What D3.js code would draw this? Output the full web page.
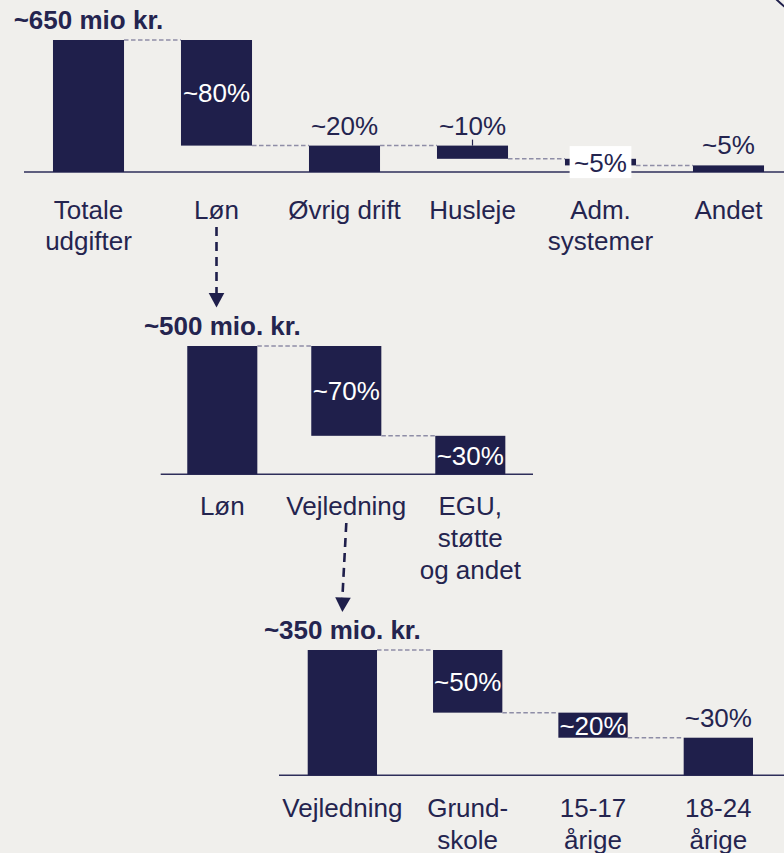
<!DOCTYPE html>
<html>
<head>
<meta charset="utf-8">
<script src="https://cdn.jsdelivr.net/npm/d3@7"></script>
<style>
  html, body { margin: 0; padding: 0; background: #f0efec; }
  svg { display: block; }
</style>
</head>
<body>
<svg id="chart" width="784" height="853"></svg>
<script>
// Total expenditure, broken down step by step (shares in % of the bar on the left)
const totalTitle = "~650 mio kr.";
const totalCategories = [["Totale", "udgifter"], ["Løn"], ["Øvrig drift"], ["Husleje"], ["Adm.", "systemer"], ["Andet"]];
const totalShares = [100, 80, 20, 10, 5, 5];
const totalStarts = [100, 100, 20, 20, 10, 5];
const totalLabels = ["", "~80%", "~20%", "~10%", "~5%", "~5%"];

// Salaries split
const salaryTitle = "~500 mio. kr.";
const salaryCategories = [["Løn"], ["Vejledning"], ["EGU,", "støtte", "og andet"]];
const salaryShares = [100, 70, 30];
const salaryStarts = [100, 100, 30];
const salaryLabels = ["", "~70%", "~30%"];

// Guidance split
const guidanceTitle = "~350 mio. kr.";
const guidanceCategories = [["Vejledning"], ["Grund-", "skole"], ["15-17", "årige"], ["18-24", "årige"]];
const guidanceShares = [100, 50, 20, 30];
const guidanceStarts = [100, 100, 50, 30];
const guidanceLabels = ["", "~50%", "~20%", "~30%"];

const NAVY = "#1f1f4b";
const TEXT = "#24244f";
const DASH = "#8e8da6";
const FONT = "'Liberation Sans', Arial, Helvetica, sans-serif";

const svg = d3.select("#chart");

const panels = [
  { title: totalTitle, categories: totalCategories, shares: totalShares, starts: totalStarts, labels: totalLabels,
    xRange: [24.5, 792.5], pad: 0.445, yRange: [172, 40], axis: [24, 784], catY: 219, lineGap: 30.5,
    place: ["", "inside", "above", "above", "boxed", "above"], leaders: [3] },
  { title: salaryTitle, categories: salaryCategories, shares: salaryShares, starts: salaryStarts, labels: salaryLabels,
    xRange: [160.3, 532.3], pad: 0.435, yRange: [474.3, 346], axis: [160.7, 533], catY: 515.3, lineGap: 32,
    place: ["", "inside", "inside"], leaders: [] },
  { title: guidanceTitle, categories: guidanceCategories, shares: guidanceShares, starts: guidanceStarts, labels: guidanceLabels,
    xRange: [279.7, 781], pad: 0.447, yRange: [775.3, 650], axis: [279, 784], catY: 816.7, lineGap: 32,
    place: ["", "inside", "inside", "above"], leaders: [] }
];

panels.forEach(p => {
  const idx = p.categories.map((_, i) => i);
  p.x = d3.scaleBand().domain(idx).range(p.xRange).paddingInner(p.pad).paddingOuter(p.pad / 2);
  p.y = d3.scaleLinear().domain([0, 100]).range(p.yRange);
  p.rows = idx.map(i => ({
    i,
    top: p.starts[i],
    bottom: p.starts[i] - p.shares[i],
    label: p.labels[i],
    cat: p.categories[i]
  }));

  const g = svg.append("g");

  // baseline
  g.append("line")
    .attr("x1", p.axis[0]).attr("x2", p.axis[1])
    .attr("y1", p.y(0)).attr("y2", p.y(0))
    .attr("stroke", "#2e2e5a").attr("stroke-width", 1.6);

  // bars
  g.selectAll("rect.bar").data(p.rows).join("rect")
    .attr("class", "bar")
    .attr("x", d => p.x(d.i))
    .attr("width", p.x.bandwidth())
    .attr("y", d => p.y(d.top))
    .attr("height", d => p.y(d.bottom) - p.y(d.top))
    .attr("fill", NAVY);

  // dashed connectors between neighbouring bars
  g.selectAll("line.conn").data(p.rows.slice(1)).join("line")
    .attr("class", "conn")
    .attr("x1", d => p.x(d.i - 1) + p.x.bandwidth())
    .attr("x2", d => p.x(d.i))
    .attr("y1", d => p.y(d.top))
    .attr("y2", d => p.y(d.top))
    .attr("stroke", DASH).attr("stroke-width", 1.5)
    .attr("stroke-dasharray", "4.5,2.5");

  // title above first bar
  g.append("text")
    .attr("x", p.x(0) + p.x.bandwidth() / 2)
    .attr("y", p.y(100) - 11)
    .attr("text-anchor", "middle")
    .attr("font-family", FONT).attr("font-size", 26).attr("font-weight", "bold")
    .attr("fill", TEXT)
    .text(p.title);

  // value labels
  p.rows.filter(d => d.label).forEach(d => {
    const cx = p.x(d.i) + p.x.bandwidth() / 2;
    const mode = p.place[d.i];
    const mid = (p.y(d.top) + p.y(d.bottom)) / 2;
    if (mode === "boxed") {
      const t = g.append("text")
        .attr("x", cx).attr("y", mid + 9.7)
        .attr("text-anchor", "middle")
        .attr("font-family", FONT).attr("font-size", 26)
        .attr("fill", TEXT).text(d.label);
      const bb = t.node().getBBox();
      g.insert("rect", () => t.node())
        .attr("x", bb.x - 4.5).attr("width", bb.width + 9)
        .attr("y", mid - 16).attr("height", 32)
        .attr("fill", "#ffffff");
    } else if (mode === "inside") {
      g.append("text")
        .attr("x", cx).attr("y", mid + 9.5)
        .attr("text-anchor", "middle")
        .attr("font-family", FONT).attr("font-size", 26)
        .attr("fill", "#ffffff").text(d.label);
    } else {
      g.append("text")
        .attr("x", cx).attr("y", p.y(d.top) - 11)
        .attr("text-anchor", "middle")
        .attr("font-family", FONT).attr("font-size", 26)
        .attr("fill", TEXT).text(d.label);
      if (p.leaders.includes(d.i)) {
        g.append("line")
          .attr("x1", cx).attr("x2", cx)
          .attr("y1", p.y(d.top) - 6).attr("y2", p.y(d.top))
          .attr("stroke", TEXT).attr("stroke-width", 1.2);
      }
    }
  });

  // category labels
  p.rows.forEach(d => {
    const t = g.append("text")
      .attr("x", p.x(d.i) + p.x.bandwidth() / 2)
      .attr("y", p.catY)
      .attr("text-anchor", "middle")
      .attr("font-family", FONT).attr("font-size", 26)
      .attr("fill", TEXT);
    d.cat.forEach((line, k) => {
      t.append("tspan")
        .attr("x", p.x(d.i) + p.x.bandwidth() / 2)
        .attr("dy", k === 0 ? 0 : p.lineGap)
        .text(line);
    });
  });
});

// dashed drill-down arrows
function arrow(x1, y1, x2, y2, tipY) {
  const ang = Math.atan2(tipY - y1, x2 - x1);
  svg.append("line")
    .attr("x1", x1).attr("y1", y1).attr("x2", x2).attr("y2", y2)
    .attr("stroke", NAVY).attr("stroke-width", 2.6)
    .attr("stroke-dasharray", "9,6");
  const len = 14.5, half = 7.8;
  const tx = x2, ty = tipY;
  const bx = tx - len * Math.cos(ang), by = ty - len * Math.sin(ang);
  const nx = -Math.sin(ang), ny = Math.cos(ang);
  svg.append("path")
    .attr("d", `M${tx},${ty}L${bx + nx * half},${by + ny * half}L${bx - nx * half},${by - ny * half}Z`)
    .attr("fill", NAVY);
}
const p1 = panels[0], p2 = panels[1], p3 = panels[2];
const lonX = p1.x(1) + p1.x.bandwidth() / 2;
arrow(lonX, 227, lonX, 294, 307.5);
const vejX = p2.x(1) + p2.x.bandwidth() / 2;
const vej3X = p3.x(0) + p3.x.bandwidth() / 2;
arrow(vejX, 523, vej3X, 598, 612);

// corner ornament
svg.append("path")
  .attr("d", "M776,-1 Q780,3 785,7")
  .attr("fill", "none").attr("stroke", NAVY).attr("stroke-width", 2);
</script>
</body>
</html>
